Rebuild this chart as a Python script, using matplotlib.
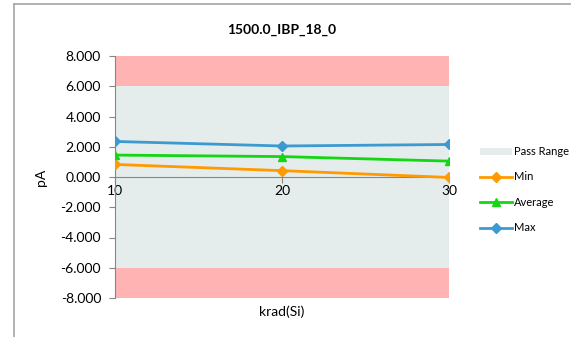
import numpy as np
import matplotlib.pyplot as plt
from matplotlib.lines import Line2D

plt.rcParams['font.family'] = ['Lato', 'DejaVu Sans']

dose = [10, 20, 30]
min_vals = [0.83, 0.42, -0.03]
avg_vals = [1.45, 1.35, 1.05]
max_vals = [2.35, 2.05, 2.15]

pass_low, pass_high = -6.0, 6.0
fail_low, fail_high = -8.0, 8.0
yticks = np.arange(-8, 9, 2)

fig = plt.figure(figsize=(5.71, 3.37), dpi=100)
ax = fig.add_axes([115 / 571, 39 / 337, 334 / 571, 242 / 337])

# bands
ax.fill_between(dose, fail_low, pass_low, color='#FFB3B3', lw=0, zorder=0)
ax.fill_between(dose, pass_low, pass_high, color='#E5ECEC', lw=0, zorder=0, label='Pass Range')
ax.fill_between(dose, pass_high, fail_high, color='#FFB3B3', lw=0, zorder=0)

ax.plot(dose, min_vals, color='#FF9A00', lw=2, marker='D', ms=5, label='Min', zorder=3)
ax.plot(dose, avg_vals, color='#14D614', lw=2, marker='^', ms=6, label='Average', zorder=3)
ax.plot(dose, max_vals, color='#3D9AD1', lw=2, marker='D', ms=5, label='Max', zorder=3)

ax.set_xlim(10, 30)
ax.set_ylim(fail_low, fail_high)
ax.set_xticks(dose)
ax.set_xticklabels([str(d) for d in dose], fontsize=7)
ax.set_yticks(yticks)
ax.set_yticklabels(['%.3f' % v for v in yticks], fontsize=10)

for s in ['top', 'right']:
    ax.spines[s].set_visible(False)
ax.spines['bottom'].set_position(('data', 0))
ax.spines['bottom'].set_color('#868686')
ax.spines['left'].set_color('#868686')
ax.spines['bottom'].set_zorder(2)
ax.tick_params(axis='y', colors='#868686', length=4, labelcolor='black', pad=6)
ax.tick_params(axis='x', colors='#868686', length=4, labelcolor='black', pad=2)

ax.set_title('1500.0_IBP_18_0', fontsize=10, fontweight='bold', pad=16)
ax.set_ylabel('pA', fontsize=10, labelpad=10)
fig.text(282 / 571, 1 - 312 / 337, 'krad(Si)', fontsize=10, ha='center', va='center')

ax.legend(loc='upper left', bbox_to_anchor=(480 / 571, 1 - 146 / 337),
          bbox_transform=fig.transFigure, frameon=False, fontsize=8,
          borderpad=0, borderaxespad=0, handletextpad=0.2, handlelength=2.9,
          labelspacing=1.3, handleheight=0.6)

# chart border (partially visible)
fig.add_artist(Line2D([14 / 571, 1], [1 - 4 / 337, 1 - 4 / 337], color='#A6A6A6', lw=1.2,
                      transform=fig.transFigure))
fig.add_artist(Line2D([14 / 571, 14 / 571], [0, 1 - 4 / 337], color='#A6A6A6', lw=1.2,
                      transform=fig.transFigure))

fig.savefig('out.png', dpi=100)
